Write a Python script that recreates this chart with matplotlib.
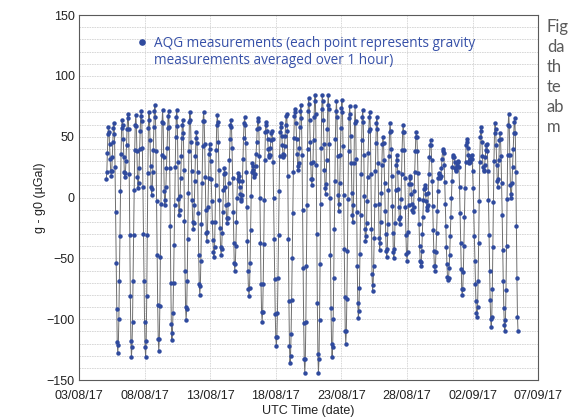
########################################################  Pacotes

import pandas as pd
import matplotlib
matplotlib.use("Agg")
import matplotlib.pyplot as plt
import matplotlib.dates as mdates
from matplotlib.lines import Line2D
from matplotlib.ticker import MultipleLocator

########################################################  Dados

# primeira média horária (UTC)
inicio = "2017-08-05 02:00"

# g - g0 (µGal), uma média por hora
gravidade = [
    15, 21, 37, 52, 58, 54, 44, 32, 22, 18, 22, 33, 46, 57, 61,
    52, 25, -12, -54, -92, -119, -128, -121, -100, -69, -32, 5, 36, 57, 64,
    60, 48, 33, 21, 17, 20, 30, 43, 56, 65, 69,
    56, 19, -31, -81, -118, -131, -123, -102, -69, -31, 6, 39, 60, 68,
    59, 38, 17, 8, 12, 24, 40, 55, 67, 71,
    63, 41, 9, -30, -69, -102, -123, -131, -118, -81, -31, 20, 57, 70,
    64, 47, 26, 9, 2, 7, 21, 39, 58, 71, 76,
    66, 38, -3, -47, -88, -116, -126, -116, -89, -49, -5, 35, 62, 72,
    61, 33, 5, -6, -2, 9, 24, 41, 57, 67, 71,
    58, 24, -23, -70, -104, -117, -111, -95, -70, -39, -6, 25, 50, 66, 72,
    59, 29, -1, -14, -10, 1, 16, 34, 49, 60, 64,
    53, 23, -19, -60, -90, -101, -92, -69, -34, 4, 38, 62, 70,
    64, 46, 22, -2, -20, -26, -21, -6, 14, 34, 49, 54,
    45, 21, -13, -47, -71, -80, -73, -52, -22, 12, 42, 63, 70,
    63, 44, 17, -10, -29, -36, -28, -8, 16, 36, 44,
    40, 30, 15, -3, -20, -35, -45, -49, -41, -20, 10, 39, 60, 68,
    62, 46, 23, -2, -25, -41, -47, -42, -29, -12, 6, 19, 24,
    20, 9, -6, -17, -21, -17, -5, 12, 31, 48, 60, 64,
    58, 41, 16, -12, -37, -54, -60, -55, -40, -20, 0, 15, 20,
    18, 14, 9, 3, -1, -3, 2, 14, 32, 49, 61, 66,
    60, 45, 21, -8, -36, -60, -75, -81, -74, -54, -27, 1, 21, 28,
    26, 23, 19, 17, 19, 26, 36, 46, 56, 63, 65,
    57, 34, 0, -37, -71, -94, -102, -94, -71, -38, -2, 31, 54, 62,
    60, 55, 48, 40, 35, 33, 35, 41, 47, 53, 55,
    48, 29, 0, -34, -67, -96, -115, -122, -115, -95, -66, -31, 5, 34, 54, 61,
    58, 51, 43, 36, 33, 35, 42, 51, 60, 67, 69,
    55, 18, -34, -85, -122, -136, -130, -112, -84, -50, -13, 21, 49, 67, 73,
    70, 61, 48, 36, 26, 23, 28, 41, 58, 71, 76,
    65, 35, -10, -58, -103, -133, -144, -133, -102, -56, -6, 40, 71, 82,
    77, 64, 46, 28, 15, 10, 15, 29, 47, 66, 79, 84,
    69, 27, -30, -87, -129, -144, -133, -101, -55, -5, 41, 73, 84,
    79, 64, 44, 23, 8, 3, 11, 31, 56, 76, 84,
    73, 44, 0, -47, -91, -120, -131, -123, -100, -66, -26, 14, 48, 71, 79,
    66, 34, 2, -11, -5, 12, 35, 57, 74, 80,
    70, 42, 2, -42, -82, -110, -120, -110, -83, -44, -1, 38, 65, 75,
    69, 51, 28, 4, -14, -20, -6, 28, 61, 75,
    63, 32, -12, -56, -87, -99, -93, -74, -46, -14, 19, 47, 66, 72,
    62, 35, 1, -26, -36, -32, -21, -3, 17, 37, 55, 66, 70,
    56, 19, -26, -63, -77, -72, -56, -33, -6, 22, 45, 61, 66,
    56, 28, -5, -33, -43, -37, -20, 4, 27, 44, 50,
    45, 31, 12, -11, -30, -44, -49, -42, -22, 6, 34, 54, 61,
    55, 40, 18, -7, -29, -45, -50, -42, -21, 6, 27, 35,
    31, 21, 7, -8, -18, -22, -16, -1, 19, 39, 54, 60,
    54, 39, 16, -8, -31, -46, -52, -45, -28, -6, 11, 18,
    16, 11, 3, -5, -10, -12, -8, 5, 21, 38, 50, 54,
    50, 38, 20, -1, -22, -40, -52, -56, -53, -44, -30, -16, -2, 7, 10,
    8, 3, -3, -8, -10, -6, 4, 19, 33, 43, 47,
    43, 31, 14, -7, -27, -44, -56, -60, -56, -45, -29, -11, 5, 16, 20,
    19, 17, 16, 18, 24, 32, 38, 40,
    37, 27, 13, -5, -23, -41, -55, -65, -68,
    -66, -58, -47, -32, -16, 0, 14, 25, 33, 35,
    33, 29, 24, 22, 23, 25, 27, 29, 30,
    25, 9, -13, -37, -59, -75, -80, -75, -61, -40, -16, 8, 29, 43, 48,
    46, 41, 35, 30, 28, 29, 32, 34, 35,
    32, 22, 8, -11, -32, -52, -71, -85, -95, -98,
    -90, -69, -37, -3, 29, 50, 58,
    55, 46, 34, 25, 22, 23, 27, 33, 39, 43, 44,
    38, 22, -2, -31, -60, -84, -100, -106, -98, -75, -41, -4, 30, 53, 61,
    56, 43, 27, 14, 9, 15, 31, 47, 53,
    48, 34, 12, -14, -43, -69, -91, -105, -110, -101, -76, -40, -1, 35, 60, 69,
    59, 35, 10, 0, 3, 12, 25, 40, 53, 62, 65,
    53, 21, -23, -66, -98, -110,
]

datas_ticks = ["2017-08-03", "2017-08-08", "2017-08-13", "2017-08-18",
               "2017-08-23", "2017-08-28", "2017-09-02", "2017-09-07"]

legenda = ["AQG measurements (each point represents gravity",
           "measurements averaged over 1 hour)"]

# pedaço visível do texto da página ao lado
texto_lado = ["Fig", "da", "th", "te", "ab", "m"]

########################################################  Gráfico

tempo = pd.date_range(inicio, periods=len(gravidade), freq="h")

fig = plt.figure(figsize=(5.72, 4.19), dpi=100)
ax = fig.add_axes([0.138, 0.093, 0.803, 0.871])

ax.plot(tempo, gravidade, color="#6e6e6e", lw=0.7, zorder=2)
pontos, = ax.plot(tempo, gravidade, ls="none", marker="o", ms=3.2,
                  mfc="#2f4a9e", mec="#2f4a9e", mew=0, zorder=3)

ticks = pd.to_datetime(datas_ticks)
ax.set_xlim(ticks[0], ticks[-1])
ax.set_xticks(ticks)
ax.xaxis.set_major_formatter(mdates.DateFormatter("%d/%m/%y"))

ax.set_ylim(-150, 150)
ax.yaxis.set_major_locator(MultipleLocator(50))
ax.yaxis.set_minor_locator(MultipleLocator(10))

ax.grid(axis="x", which="major", color="#c8c8c8", lw=0.6, ls=(0, (1, 1)))
ax.grid(axis="y", which="both", color="#d2d2d2", lw=0.6, ls=(0, (2, 1)))
ax.set_axisbelow(True)

for lado in ax.spines.values():
    lado.set_color("#5a5a5a")
    lado.set_linewidth(0.8)

ax.tick_params(axis="both", which="both", length=0, labelsize=9,
               labelcolor="#222222")
ax.tick_params(axis="x", pad=7)
ax.tick_params(axis="y", pad=3)
for rotulo in ax.get_xticklabels() + ax.get_yticklabels():
    rotulo.set_family("Liberation Sans")

ax.set_xlabel("UTC Time (date)", fontsize=9, family="Liberation Sans",
              color="#222222")
ax.set_ylabel("g - g0 (µGal)", fontsize=9, family="Liberation Sans",
              color="#222222")
ax.xaxis.set_label_coords(0.5, -0.068)
ax.yaxis.set_label_coords(-0.072, 0.5)

# legenda: marcador só na primeira linha
vazio = Line2D([], [], ls="none", marker=None)
ax.legend([pontos, vazio], legenda, loc="upper left",
          bbox_to_anchor=(0.11, 0.962), frameon=False,
          handlelength=0.8, handletextpad=0.5, borderpad=0, labelspacing=0.2,
          prop={"family": "Open Sans", "size": 9.8}, labelcolor="#3650a8",
          markerscale=1.5)

for i, palavra in enumerate(texto_lado):
    fig.text(0.956, 0.935 - i * 0.0475, palavra, fontsize=12, color="#5a5a5a",
             family="Lato", va="center", ha="left")

fig.savefig("out.png", dpi=100)
